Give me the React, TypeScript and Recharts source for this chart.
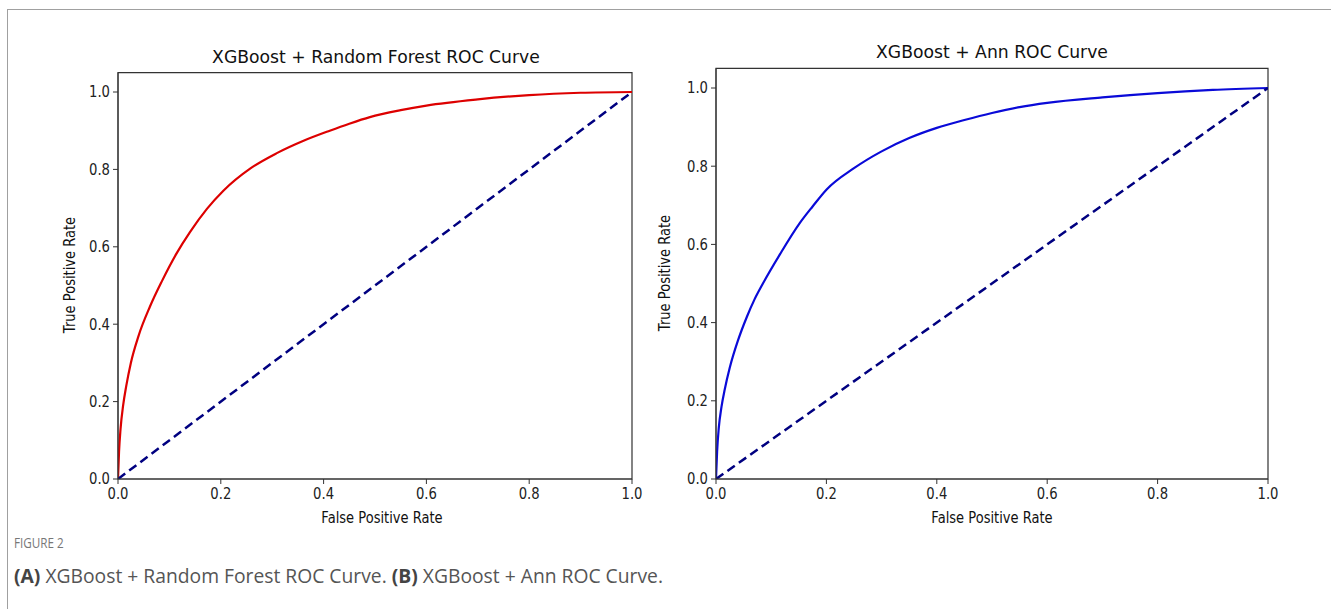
import React from 'react';
import { LineChart, Line, XAxis, YAxis, ReferenceArea } from 'recharts';

const rfFpr = [0, 0.002, 0.005, 0.01, 0.016, 0.025, 0.04, 0.062, 0.085, 0.114, 0.14, 0.173, 0.205, 0.257, 0.309, 0.361, 0.412, 0.45, 0.49, 0.55, 0.6, 0.7, 0.8, 0.9, 1.0];
const rfTpr = [0, 0.07, 0.13, 0.19, 0.24, 0.3, 0.37, 0.445, 0.51, 0.583, 0.638, 0.698, 0.745, 0.802, 0.842, 0.874, 0.9, 0.918, 0.935, 0.953, 0.965, 0.981, 0.992, 0.998, 1.0];

const annFpr = [0, 0.002, 0.005, 0.01, 0.016, 0.025, 0.04, 0.056, 0.07, 0.085, 0.116, 0.152, 0.175, 0.2, 0.25, 0.3, 0.35, 0.4, 0.45, 0.5, 0.55, 0.6, 0.7, 0.8, 0.9, 1.0];
const annTpr = [0, 0.07, 0.13, 0.185, 0.23, 0.285, 0.355, 0.415, 0.46, 0.5, 0.575, 0.655, 0.697, 0.74, 0.795, 0.838, 0.872, 0.898, 0.918, 0.936, 0.951, 0.962, 0.976, 0.987, 0.995, 1.0];

const diagFpr = [0, 1];
const diagTpr = [0, 1];

const axisTicks = [0, 0.2, 0.4, 0.6, 0.8, 1.0];

const titles = ['XGBoost + Random Forest ROC Curve', 'XGBoost + Ann ROC Curve'];
const xLabel = 'False Positive Rate';
const yLabel = 'True Positive Rate';
const figureLabel = 'FIGURE 2';

const toPoints = (xs: number[], ys: number[]) => xs.map((x, i) => ({ fpr: x, tpr: ys[i] }));

const FONT = '"DejaVu Sans", sans-serif';
const SQUEEZE = 0.88;

function XTick(props: any) {
  const { x, y, payload } = props;
  return (
    <text
      transform={`translate(${x},${y}) scale(${SQUEEZE},1)`}
      textAnchor="middle"
      dy="0.71em"
      fontSize={15}
      fontFamily={FONT}
      fill="#222"
    >
      {Number(payload.value).toFixed(1)}
    </text>
  );
}

function YTick(props: any) {
  const { x, y, payload } = props;
  return (
    <text
      transform={`translate(${x},${y}) scale(${SQUEEZE},1)`}
      textAnchor="end"
      dy="0.355em"
      fontSize={15}
      fontFamily={FONT}
      fill="#222"
    >
      {Number(payload.value).toFixed(1)}
    </text>
  );
}

type PanelProps = {
  left: number;
  width: number;
  height: number;
  margin: { top: number; right: number; bottom: number; left: number };
  fpr: number[];
  tpr: number[];
  color: string;
};

function Panel({ left, width, height, margin, fpr, tpr, color }: PanelProps) {
  return (
    <div style={{ position: 'absolute', left, top: 0, width, height }}>
      <LineChart width={width} height={height} margin={margin}>
        <XAxis
          type="number"
          dataKey="fpr"
          domain={[0, 1]}
          ticks={axisTicks}
          tick={<XTick />}
          tickSize={5}
          tickMargin={4}
          height={30}
          stroke="#333"
          allowDataOverflow
        />
        <YAxis
          type="number"
          dataKey="tpr"
          domain={[0, 1.05]}
          ticks={axisTicks}
          tick={<YTick />}
          tickSize={5}
          tickMargin={3}
          width={40}
          stroke="#333"
          allowDataOverflow
        />
        <ReferenceArea x1={0} x2={1} y1={0} y2={1.05} fill="none" fillOpacity={0} stroke="#333" strokeWidth={1.2} />
        <Line
          data={toPoints(fpr, tpr)}
          dataKey="tpr"
          type="monotone"
          stroke={color}
          strokeWidth={2.2}
          dot={false}
          isAnimationActive={false}
        />
        <Line
          data={toPoints(diagFpr, diagTpr)}
          dataKey="tpr"
          type="linear"
          stroke="#000080"
          strokeWidth={2.5}
          strokeDasharray="9 5"
          dot={false}
          isAnimationActive={false}
        />
      </LineChart>
    </div>
  );
}

const textBase: React.CSSProperties = {
  position: 'absolute',
  fontFamily: FONT,
  color: '#111',
  whiteSpace: 'nowrap',
  lineHeight: 1,
};

export default function App() {
  return (
    <div style={{ position: 'fixed', left: 0, top: 0, width: 1331, height: 609, background: '#fff', overflow: 'hidden' }}>
      <div style={{ position: 'absolute', left: 7, top: 9, width: 1331, height: 609, borderTop: '1px solid #a0a0a0', borderLeft: '1px solid #a0a0a0' }} />
      <Panel
        left={0}
        width={660}
        height={540}
        margin={{ top: 72.65, right: 28, bottom: 31, left: 78 }}
        fpr={rfFpr}
        tpr={rfTpr}
        color="#dd0000"
      />
      <Panel
        left={660}
        width={671}
        height={540}
        margin={{ top: 68.45, right: 63, bottom: 31, left: 16 }}
        fpr={annFpr}
        tpr={annTpr}
        color="#0a0ad8"
      />
      {/* titles */}
      <div style={{ ...textBase, left: 376, top: 57, fontSize: 18.5, transform: 'translate(-50%, -50%) scaleX(0.93)' }}>{titles[0]}</div>
      <div style={{ ...textBase, left: 992, top: 52, fontSize: 18.5, transform: 'translate(-50%, -50%) scaleX(0.93)' }}>{titles[1]}</div>
      {/* x labels */}
      <div style={{ ...textBase, left: 382, top: 518, fontSize: 15, transform: 'translate(-50%, -50%) scaleX(0.87)' }}>{xLabel}</div>
      <div style={{ ...textBase, left: 992, top: 518, fontSize: 15, transform: 'translate(-50%, -50%) scaleX(0.87)' }}>{xLabel}</div>
      {/* y labels */}
      <div style={{ ...textBase, left: 70, top: 275, fontSize: 15, transform: 'translate(-50%, -50%) rotate(-90deg) scaleX(0.87)' }}>{yLabel}</div>
      <div style={{ ...textBase, left: 665, top: 273, fontSize: 15, transform: 'translate(-50%, -50%) rotate(-90deg) scaleX(0.87)' }}>{yLabel}</div>
      {/* caption */}
      <div style={{ position: 'absolute', left: 14, top: 535, fontFamily: '"Open Sans", sans-serif', fontSize: 15, fontWeight: 500, color: '#777', lineHeight: 1, whiteSpace: 'nowrap', transform: 'scaleX(0.78)', transformOrigin: 'left center' }}>{figureLabel}</div>
      <div style={{ position: 'absolute', left: 14, top: 566, fontFamily: '"Open Sans", sans-serif', fontSize: 19.3, color: '#555', lineHeight: 1, whiteSpace: 'nowrap' }}>
        <span style={{ fontWeight: 700, color: '#444' }}>(A)</span> XGBoost + Random Forest ROC Curve. <span style={{ fontWeight: 700, color: '#444' }}>(B)</span> XGBoost + Ann ROC Curve.
      </div>
    </div>
  );
}
